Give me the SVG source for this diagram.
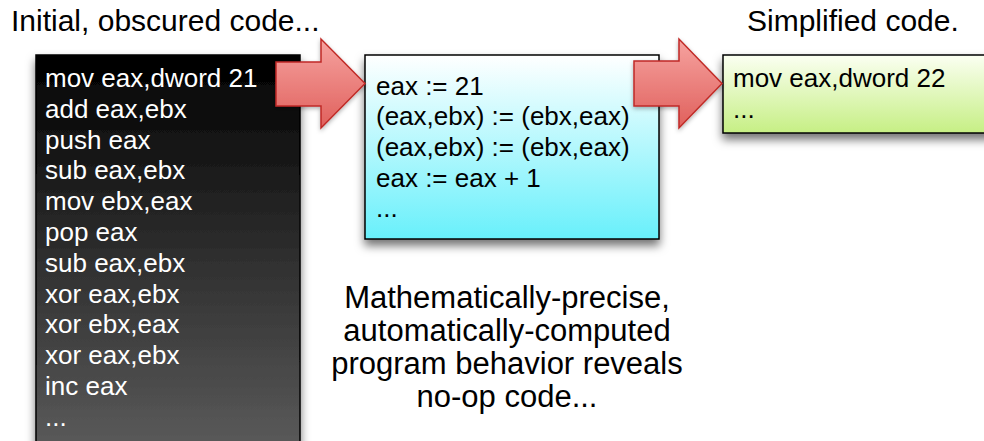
<svg xmlns="http://www.w3.org/2000/svg" width="984" height="441" viewBox="0 0 984 441">
<defs>
<linearGradient id="gBlack" x1="0" y1="0" x2="0" y2="1">
<stop offset="0" stop-color="#000000"/>
<stop offset="1" stop-color="#5c5c5c"/>
</linearGradient>
<linearGradient id="gCyan" x1="0" y1="0" x2="0" y2="1">
<stop offset="0" stop-color="#ffffff"/>
<stop offset="1" stop-color="#68f0fb"/>
</linearGradient>
<linearGradient id="gGreen" x1="0" y1="0" x2="0" y2="1">
<stop offset="0" stop-color="#fbfff2"/>
<stop offset="1" stop-color="#c6ef84"/>
</linearGradient>
<linearGradient id="gRed" x1="0" y1="0" x2="0" y2="1">
<stop offset="0" stop-color="#f6a3a0"/>
<stop offset="1" stop-color="#e0605c"/>
</linearGradient>
<filter id="shadow" x="-20%" y="-20%" width="140%" height="150%">
<feDropShadow dx="0" dy="6" stdDeviation="5" flood-color="#000" flood-opacity="0.55"/>
</filter>
<filter id="shadowS" x="-20%" y="-20%" width="140%" height="150%">
<feDropShadow dx="0" dy="2" stdDeviation="2" flood-color="#000" flood-opacity="0.3"/>
</filter>
</defs>
<style>
.title{font-family:"Liberation Sans",Arial,sans-serif;font-size:30px;fill:#000}
.cap{font-family:"Liberation Sans",Arial,sans-serif;font-size:31px;fill:#000}
.code{font-family:"Liberation Sans",Arial,sans-serif;font-size:26px}
.white{fill:#ffffff}
.dark{fill:#000000}
.box{stroke:#000;stroke-width:1.5}
.arrow{fill:url(#gRed);stroke:#c02a26;stroke-width:1.5;stroke-linejoin:miter}
</style>
<rect width="984" height="441" fill="#ffffff"/>

<g id="title-initial">
<text class="title" x="11" y="31">Initial, obscured code...</text>
</g>
<g id="title-simplified">
<text class="title" x="747" y="31">Simplified code.</text>
</g>

<g id="node-obscured">
<rect class="box" x="36" y="55" width="264" height="400" fill="url(#gBlack)" filter="url(#shadow)"/>
<text class="code white" x="45" y="87">mov eax,dword 21</text>
<text class="code white" x="45" y="117.8">add eax,ebx</text>
<text class="code white" x="45" y="148.6">push eax</text>
<text class="code white" x="45" y="179.4">sub eax,ebx</text>
<text class="code white" x="45" y="210.2">mov ebx,eax</text>
<text class="code white" x="45" y="241">pop eax</text>
<text class="code white" x="45" y="271.8">sub eax,ebx</text>
<text class="code white" x="45" y="302.6">xor eax,ebx</text>
<text class="code white" x="45" y="333.4">xor ebx,eax</text>
<text class="code white" x="45" y="364.2">xor eax,ebx</text>
<text class="code white" x="45" y="395">inc eax</text>
<text class="code white" x="45" y="425.8">...</text>
</g>

<g id="node-semantics">
<rect class="box" x="365" y="55" width="294" height="184" fill="url(#gCyan)" filter="url(#shadow)"/>
<text class="code dark" x="376" y="94.5">eax := 21</text>
<text class="code dark" x="376" y="125.2">(eax,ebx) := (ebx,eax)</text>
<text class="code dark" x="376" y="155.9">(eax,ebx) := (ebx,eax)</text>
<text class="code dark" x="376" y="186.6">eax := eax + 1</text>
<text class="code dark" x="376" y="217.3">...</text>
</g>

<g id="node-simplified">
<rect class="box" x="723" y="55" width="270" height="78" fill="url(#gGreen)" filter="url(#shadow)"/>
<text class="code dark" x="733" y="87">mov eax,dword 22</text>
<text class="code dark" x="733" y="118">...</text>
</g>

<g id="connectors">
<path id="arrow-1" class="arrow" filter="url(#shadowS)" d="M276,62 L321,62 L321,39 L365,83.5 L321,128 L321,106 L276,106 Z"/>
<path id="arrow-2" class="arrow" filter="url(#shadowS)" d="M634,61 L679,61 L679,39 L722,83.5 L679,128 L679,106 L634,106 Z"/>
</g>

<g id="caption">
<text class="cap" x="507" y="308" text-anchor="middle">Mathematically-precise,</text>
<text class="cap" x="507" y="341" text-anchor="middle">automatically-computed</text>
<text class="cap" x="507" y="374" text-anchor="middle">program behavior reveals</text>
<text class="cap" x="507" y="407" text-anchor="middle">no-op code...</text>
</g>
</svg>
